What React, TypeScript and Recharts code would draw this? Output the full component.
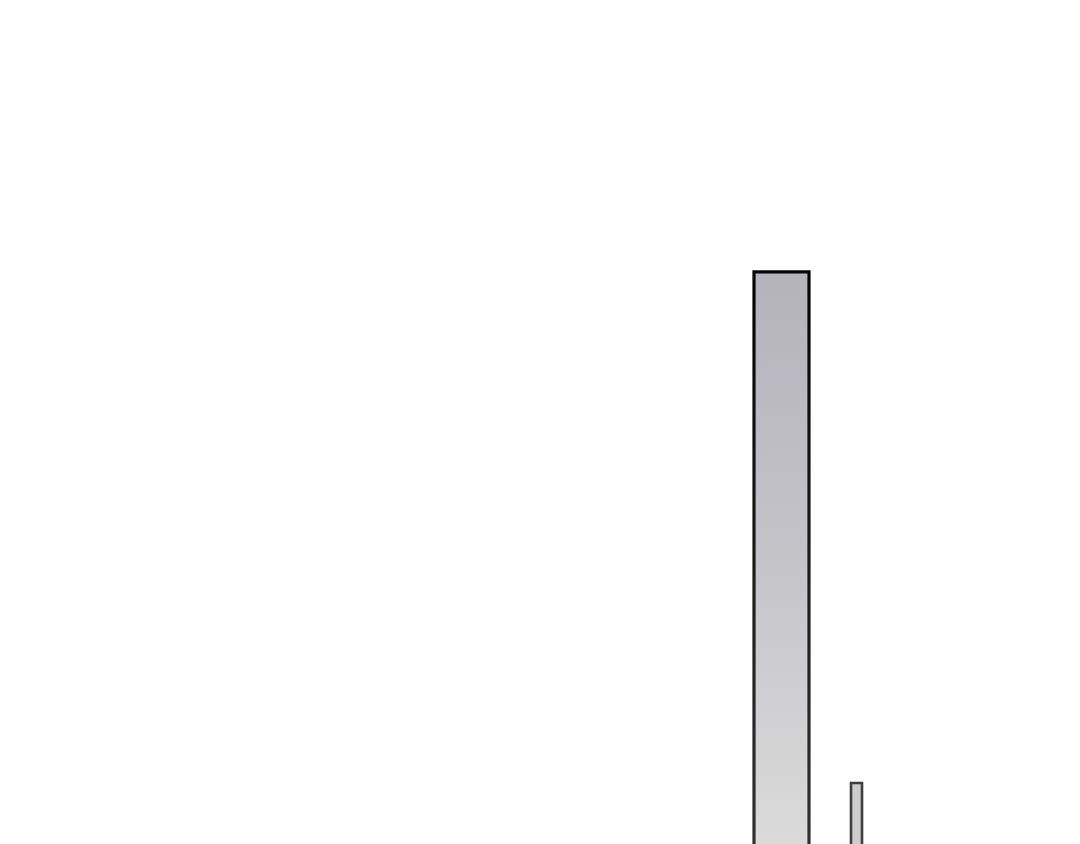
import { BarChart, Bar, XAxis, YAxis } from "recharts";

// two independent groups, each on its own hidden category axis
const mainCategories = ["main"];
const mainValues = [698];
const minorCategories = ["minor"];
const minorValues = [130];

const chartData = mainCategories.map((name, i) => ({
  name,
  main: mainValues[i],
  minor: minorValues[i],
  minorName: minorCategories[i],
}));

function App() {
  return (
    <div
      style={{
        position: "absolute",
        top: 0,
        left: 0,
        width: 1080,
        height: 844,
        overflow: "hidden",
        background: "#fff",
      }}
    >
      <BarChart
        width={1080}
        height={900}
        data={chartData}
        margin={{ top: 0, right: 0, bottom: 0, left: 0 }}
        barCategoryGap={0}
        barGap={0}
      >
        <defs>
          <linearGradient id="mainFill" x1="0" y1="0" x2="0" y2="1">
            <stop offset="0%" stopColor="#b4b3bc" />
            <stop offset="45%" stopColor="#c4c3c8" />
            <stop offset="100%" stopColor="#dfdfdd" />
          </linearGradient>
          <linearGradient id="mainStroke" x1="0" y1="0" x2="0" y2="1">
            <stop offset="0%" stopColor="#050505" />
            <stop offset="100%" stopColor="#353535" />
          </linearGradient>
        </defs>
        <XAxis
          xAxisId="a"
          dataKey="name"
          hide
          padding={{ left: 753, right: 270 }}
        />
        <XAxis
          xAxisId="b"
          dataKey="minorName"
          hide
          padding={{ left: 850, right: 218 }}
        />
        <YAxis hide domain={[0, 1000]} />
        <Bar
          xAxisId="a"
          dataKey="main"
          barSize={55}
          fill="url(#mainFill)"
          stroke="url(#mainStroke)"
          strokeWidth={3.2}
          isAnimationActive={false}
        />
        <Bar
          xAxisId="b"
          dataKey="minor"
          barSize={11}
          fill="#cdcdcd"
          stroke="#3f3f3f"
          strokeWidth={2.6}
          isAnimationActive={false}
        />
      </BarChart>
    </div>
  );
}

export default App;
